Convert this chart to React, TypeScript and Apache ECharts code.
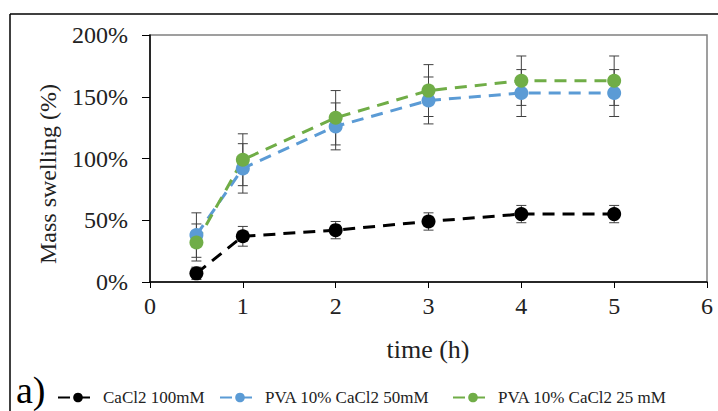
import React, { useEffect, useRef } from "react";
import * as echarts from "echarts";

const times = [0.5, 1, 2, 3, 4, 5];
const cacl2Values = [7, 37, 42, 49, 55, 55];
const cacl2Errors = [5, 8, 7, 7, 7, 7];
const pva50Values = [38, 92, 126, 147, 153, 153];
const pva50Errors = [18, 20, 19, 19, 19, 19];
const pva25Values = [32, 99, 133, 155, 163, 163];
const pva25Errors = [15, 21, 22, 21, 20, 20];
const seriesNames = ["CaCl2 100mM", "PVA 10% CaCl2 50mM", "PVA 10% CaCl2 25 mM"];
const seriesColors = ["#000000", "#5B9BD5", "#70AD47"];
const xTicks = [0, 1, 2, 3, 4, 5, 6];
const yTicks = [0, 50, 100, 150, 200];

const FONT = "'Liberation Serif', 'Times New Roman', serif";

function errorSeries(values: number[], errors: number[], idx: number) {
  return {
    type: "custom",
    name: seriesNames[idx] + " err",
    z: 1,
    silent: true,
    data: times.map((t, i) => [t, values[i] - errors[i], values[i] + errors[i]]),
    renderItem: (params: any, api: any) => {
      const x = api.value(0);
      const lo = api.coord([x, api.value(1)]);
      const hi = api.coord([x, api.value(2)]);
      const hw = 5;
      const st = { stroke: "#404040", lineWidth: 1 };
      return {
        type: "group",
        children: [
          { type: "line", shape: { x1: lo[0], y1: lo[1], x2: hi[0], y2: hi[1] }, style: st },
          { type: "line", shape: { x1: lo[0] - hw, y1: lo[1], x2: lo[0] + hw, y2: lo[1] }, style: st },
          { type: "line", shape: { x1: hi[0] - hw, y1: hi[1], x2: hi[0] + hw, y2: hi[1] }, style: st },
        ],
      };
    },
  };
}

function lineSeries(values: number[], idx: number) {
  return {
    type: "line",
    name: seriesNames[idx],
    z: 3,
    data: times.map((t, i) => [t, values[i]]),
    symbol: "circle",
    symbolSize: 14,
    itemStyle: { color: seriesColors[idx] },
    lineStyle: { color: seriesColors[idx], width: 3, type: [12, 8] },
  };
}

export default function App() {
  const ref = useRef<HTMLDivElement>(null);
  useEffect(() => {
    if (!ref.current) return;
    const chart = echarts.init(ref.current, undefined, { renderer: "svg" });
    const legendLefts = [52, 214, 447];
    chart.setOption({
      animation: false,
      backgroundColor: "#ffffff",
      textStyle: { fontFamily: FONT },
      grid: {
        left: 150,
        right: 11,
        top: 35,
        bottom: 129,
        show: true,
        borderColor: "#808080",
        borderWidth: 1.5,
      },
      xAxis: {
        type: "value",
        min: xTicks[0],
        max: xTicks[xTicks.length - 1],
        interval: 1,
        axisLine: { lineStyle: { color: "#000", width: 1.5 } },
        axisTick: { show: true, length: 6, lineStyle: { color: "#000" } },
        splitLine: { show: false },
        axisLabel: { color: "#222", fontSize: 24, fontFamily: FONT, margin: 12 },
      },
      yAxis: {
        type: "value",
        min: yTicks[0],
        max: yTicks[yTicks.length - 1],
        interval: 50,
        axisLine: { show: true, lineStyle: { color: "#000", width: 1.5 } },
        axisTick: { show: true, length: 8, lineStyle: { color: "#000" } },
        splitLine: { show: false },
        axisLabel: {
          color: "#222",
          fontSize: 24,
          fontFamily: FONT,
          margin: 22,
          formatter: "{value}%",
        },
      },
      legend: seriesNames.map((n, i) => ({
        data: [n],
        left: legendLefts[i],
        top: 384,
        itemWidth: 40,
        itemHeight: 12,
        itemGap: 6,
        textStyle: { fontFamily: FONT, fontSize: 17, color: "#222" },
      })),
      graphic: [
        {
          type: "line",
          shape: { x1: 10, y1: 14, x2: 720, y2: 14 },
          style: { stroke: "#000", lineWidth: 1.5 },
        },
        {
          type: "line",
          shape: { x1: 10, y1: 14, x2: 10, y2: 420 },
          style: { stroke: "#000", lineWidth: 1.5 },
        },
        {
          type: "text",
          x: 48,
          y: 174,
          rotation: Math.PI / 2,
          style: {
            text: "Mass swelling (%)",
            fontFamily: FONT,
            fontSize: 24,
            fill: "#222",
            align: "center",
            verticalAlign: "middle",
          },
        },
        {
          type: "text",
          x: 428,
          y: 349,
          style: {
            text: "time (h)",
            fontFamily: FONT,
            fontSize: 26,
            fill: "#222",
            align: "center",
            verticalAlign: "middle",
          },
        },
        {
          type: "text",
          x: 16,
          y: 390,
          style: {
            text: "a)",
            fontFamily: FONT,
            fontSize: 38,
            fill: "#000",
            align: "left",
            verticalAlign: "middle",
          },
        },
      ],
      series: [
        errorSeries(cacl2Values, cacl2Errors, 0),
        errorSeries(pva50Values, pva50Errors, 1),
        errorSeries(pva25Values, pva25Errors, 2),
        lineSeries(cacl2Values, 0),
        lineSeries(pva50Values, 1),
        lineSeries(pva25Values, 2),
      ],
    });
    return () => chart.dispose();
  }, []);
  return <div ref={ref} style={{ width: 718, height: 411, position: "absolute", left: 0, top: 0 }} />;
}
